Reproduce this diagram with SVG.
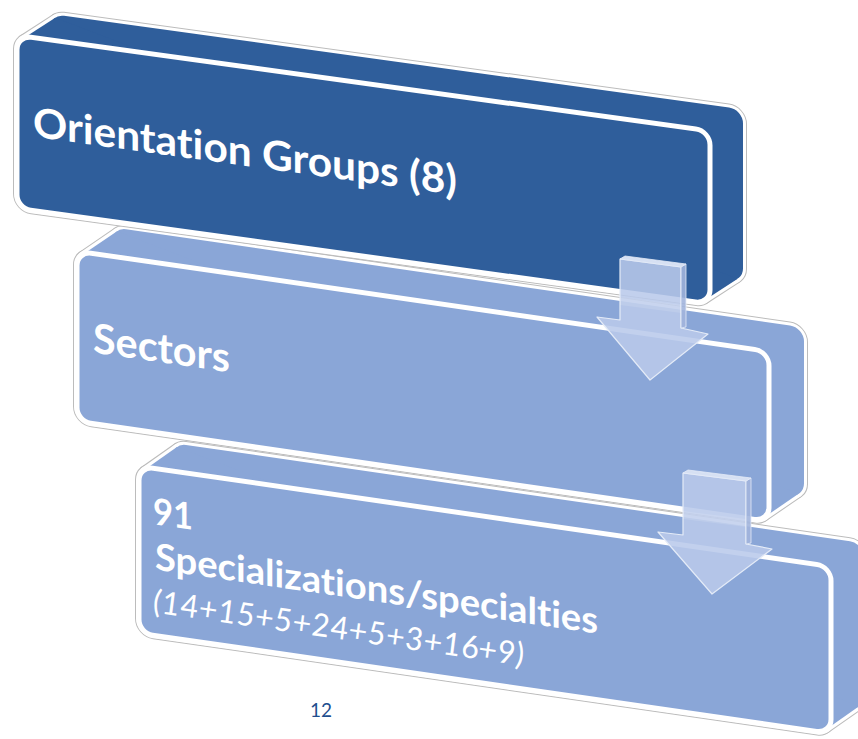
<svg xmlns="http://www.w3.org/2000/svg" width="858" height="739" viewBox="0 0 858 739">
<style>
.o1{stroke:#bcbcbc;stroke-width:8;stroke-linejoin:round}
.o2{stroke:#ffffff;stroke-width:6;stroke-linejoin:round}
.dk{fill:#2f5e9b}
.lt{fill:#8aa6d7}
.fr{stroke:#ffffff;stroke-width:5}
text{font-variant-ligatures:none;font-feature-settings:"liga" 0,"clig" 0}
.t{fill:#ffffff;font-family:Lato,"Open Sans","Liberation Sans",sans-serif;font-weight:bold}
.it{fill:#ffffff;font-family:Lato,"Open Sans","Liberation Sans",sans-serif;font-style:italic;font-weight:normal}
.ar{fill:#b9caea;fill-opacity:0.88;stroke:#e4ebf7;stroke-width:1.2;stroke-linejoin:round}
.side{fill:#a2b5dd;fill-opacity:0.9;stroke:#e4ebf7;stroke-width:0.8}
.cap{fill:#d6e0f3;stroke:#e4ebf7;stroke-width:0.8}
</style>
<rect width="858" height="739" fill="#ffffff"/>

<g id="box3" transform="matrix(1,0.145,0,1,0,0)">
  <g class="o1" fill="#bcbcbc">
    <rect x="172" y="418" width="692" height="167" rx="14"/>
    <polygon points="143.94,449.33 176.94,421.33 859.06,581.67 826.06,609.67"/>
    <rect x="139" y="446" width="692" height="167" rx="14"/>
  </g>
  <g class="o2" fill="#ffffff">
    <rect x="172" y="418" width="692" height="167" rx="14"/>
    <polygon points="143.94,449.33 176.94,421.33 859.06,581.67 826.06,609.67"/>
    <rect x="139" y="446" width="692" height="167" rx="14"/>
  </g>
  <g class="lt">
    <rect x="172" y="418" width="692" height="167" rx="14"/>
    <polygon points="143.94,449.33 176.94,421.33 859.06,581.67 826.06,609.67"/>
  </g>
  <rect class="lt fr" x="139" y="446" width="692" height="167" rx="14"/>
  <text class="t" x="153" y="502" font-size="37" textLength="40" lengthAdjust="spacingAndGlyphs">91</text>
  <text class="t" x="155" y="547" font-size="37" textLength="443" lengthAdjust="spacingAndGlyphs">Specializations/specialties</text>
  <text class="it" x="153" y="590" font-size="32" textLength="371" lengthAdjust="spacingAndGlyphs">(14+15+5+24+5+3+16+9)</text>
</g>

<g id="box2" transform="matrix(1,0.145,0,1,0,0)">
  <g class="o1" fill="#bcbcbc">
    <rect x="112" y="211" width="692" height="170" rx="14"/>
    <polygon points="82.07,243.22 117.07,214.22 798.93,377.78 763.93,406.78"/>
    <rect x="77" y="240" width="692" height="170" rx="14"/>
  </g>
  <g class="o2" fill="#ffffff">
    <rect x="112" y="211" width="692" height="170" rx="14"/>
    <polygon points="82.07,243.22 117.07,214.22 798.93,377.78 763.93,406.78"/>
    <rect x="77" y="240" width="692" height="170" rx="14"/>
  </g>
  <g class="lt">
    <rect x="112" y="211" width="692" height="170" rx="14"/>
    <polygon points="82.07,243.22 117.07,214.22 798.93,377.78 763.93,406.78"/>
  </g>
  <rect class="lt fr" x="77" y="240" width="692" height="170" rx="14"/>
  <text class="t" x="93" y="339" font-size="41" textLength="137" lengthAdjust="spacingAndGlyphs">Sectors</text>
</g>

<g id="box1" transform="matrix(1,0.138,0,1,0,0)">
  <g class="o1" fill="#bcbcbc">
    <rect x="50" y="7" width="693" height="173" rx="14"/>
    <polygon points="22.3,36 55.3,10 737.7,177 704.7,203"/>
    <rect x="17" y="33" width="693" height="173" rx="14"/>
  </g>
  <g class="o2" fill="#ffffff">
    <rect x="50" y="7" width="693" height="173" rx="14"/>
    <polygon points="22.3,36 55.3,10 737.7,177 704.7,203"/>
    <rect x="17" y="33" width="693" height="173" rx="14"/>
  </g>
  <g class="dk">
    <rect x="50" y="7" width="693" height="173" rx="14"/>
    <polygon points="22.3,36 55.3,10 737.7,177 704.7,203"/>
  </g>
  <rect class="dk fr" x="17" y="33" width="693" height="173" rx="14"/>
  <text class="t" x="33" y="132" font-size="41" textLength="424" lengthAdjust="spacingAndGlyphs">Orientation Groups (8)</text>
</g>

<g id="connectors">
  <g id="arrow1">
    <polygon class="ar" points="620,259 681,267 681,328 708,334 650,380 597,317 620,320"/>
    <polygon points="620,297 681,305 681,313 620,305" fill="#ffffff" fill-opacity="0.12"/>
    <polygon class="side" points="681,267 686,264 686,327 681,328"/>
    <polygon class="cap" points="620,259 625,256 686,264 681,267"/>
  </g>
  <g id="arrow2">
    <polygon class="ar" points="683,473 746,481 746,544 772,549 712,594 658,532 683,535"/>
    <polygon points="683,511 746,519 746,527 683,519" fill="#ffffff" fill-opacity="0.12"/>
    <polygon class="side" points="746,481 751,478 751,543 746,544"/>
    <polygon class="cap" points="683,473 688,470 751,478 746,481"/>
  </g>
</g>

<text x="321" y="717" font-family="Lato,'Open Sans','Liberation Sans',sans-serif" font-size="19" fill="#1f4e8e" text-anchor="middle">12</text>
</svg>
